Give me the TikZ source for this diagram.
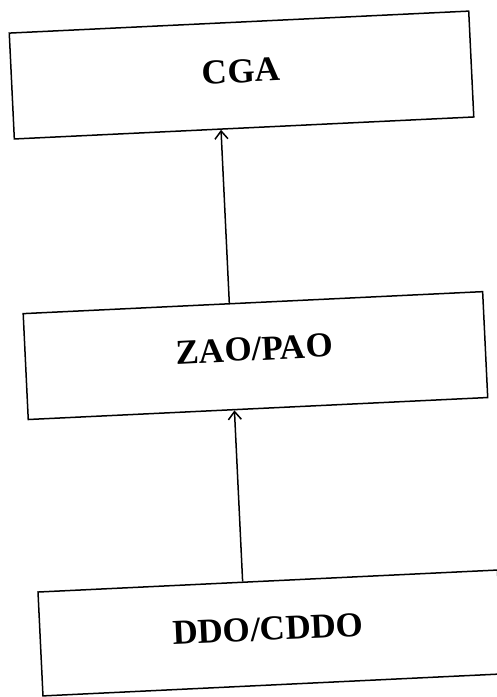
\documentclass[tikz,border=0pt]{standalone}
\usepackage{fontspec}
\setmainfont{Liberation Serif}
\usetikzlibrary{arrows.meta}
\begin{document}
\begin{tikzpicture}[x=1pt,y=1pt,
  box/.style={draw, line width=1.5pt, minimum width=460pt, minimum height=106pt, inner sep=0pt},
  lbl/.style={font=\fontsize{35}{40}\selectfont\bfseries, inner sep=0pt},
  conn/.style={line width=1.5pt, -{Straight Barb[length=8pt,width=13pt,line width=1.5pt]}}]
\useasboundingbox (0,0) rectangle (497,-697);
\fill[white] (0,0) rectangle (497,-697);
\clip (0,0) rectangle (497,-697);
\begin{scope}[rotate around={2.74:(248.5,-348.5)}, transform shape]
  \node[box] (cga) at (254.6,-75) {};
  \node[box] (zao) at (255.1,-355.9) {};
  \node[box, minimum height=104pt] (ddo) at (256.6,-633.7) {};
  \node[lbl] (tcga) at (254.4,-70.9) {CGA};
  \node[lbl] (tzao) at (254.4,-349.3) {ZAO/PAO};
  \node[lbl] (tddo) at (254.6,-629.6) {DDO/CDDO};
  \coordinate (ax) at (231.5,0);
  \draw[conn] (zao.north -| ax) -- (cga.south -| ax);
  \draw[conn] (ddo.north -| ax) -- (zao.south -| ax);
\end{scope}
\end{tikzpicture}
\end{document}
